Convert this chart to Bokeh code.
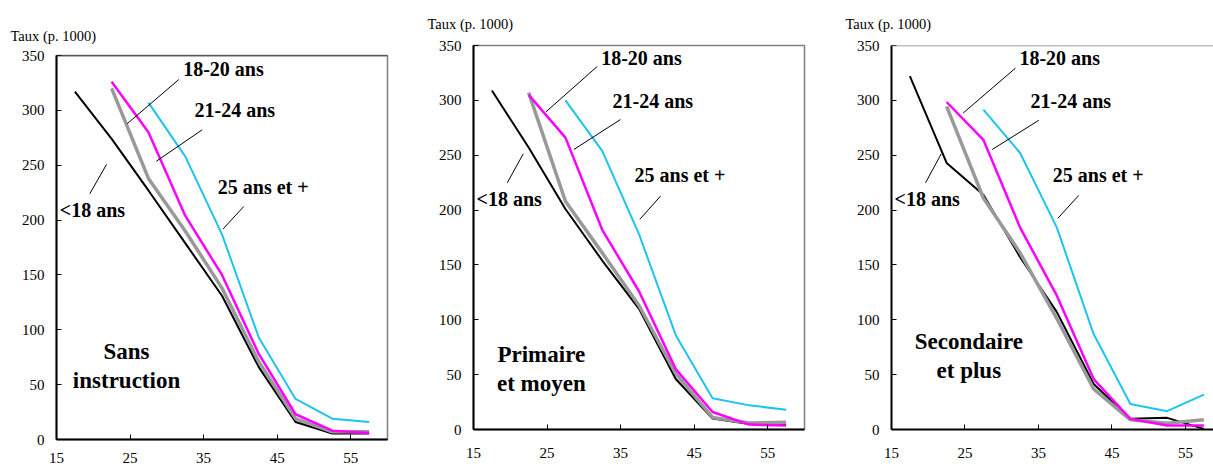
from bokeh.plotting import figure
from bokeh.layouts import row, column
from bokeh.models import Range1d, FixedTicker, Span
from bokeh.core.properties import value
from bokeh.embed import file_html
from bokeh.resources import INLINE

# ---------------- data ----------------
AGES = [17.5, 22.5, 27.5, 32.5, 37.5, 42.5, 47.5, 52.5, 57.5]
X_TICKS = [15, 25, 35, 45, 55]
Y_TICKS = [0, 50, 100, 150, 200, 250, 300, 350]

SERIES_NAMES = ["<18 ans", "18-20 ans", "21-24 ans", "25 ans et +"]
PANEL_NAMES = [["Sans", "instruction"], ["Primaire", "et moyen"], ["Secondaire", "et plus"]]
Y_TITLE = "Taux (p. 1000)"

# Sans instruction
sans_lt18 = [317, 274, 227, 179, 131, 66, 16, 5.5, 5.5]
sans_18_20 = [320, 238, 190, 138, 71, 19, 7, 7]
sans_21_24 = [326, 280, 204, 150, 78, 23, 8, 6]
sans_25p = [307, 258, 187, 93, 37, 19, 16]

# Primaire et moyen
prim_lt18 = [309, 257, 201, 154, 110, 46, 10, 5, 5]
prim_18_20 = [307, 208, 161, 113, 51, 11, 6, 6.5]
prim_21_24 = [305, 266, 182, 126, 55, 16, 4.5, 3.6]
prim_25p = [300, 254, 178, 86, 28.5, 22, 18]

# Secondaire et plus
sec_lt18 = [322, 243, 214, 157, 107, 41.5, 9.7, 10.6, 0.6]
sec_18_20 = [294.5, 211, 161, 101, 37, 8.8, 5.8, 8.8]
sec_21_24 = [298.5, 264, 184, 122, 46, 9.7, 3.6, 3.6]
sec_25p = [291.5, 252, 184, 87, 23.3, 16.7, 31.8]

# ---------------- styles ----------------
FONT = "Liberation Serif"
COLORS = ["#000000", "#999999", "#FF00FF", "#1EC3F0"]
WIDTHS = [2, 3.5, 2.5, 2]
START = [0, 1, 1, 2]  # index in AGES where each series starts

LABEL_POS = [
    [(15.45, 209.6), (32.22, 337.3), (33.76, 299.9), (36.93, 230.0)],
    [(15.41, 210.3), (32.36, 338.5), (33.90, 299.7), (36.89, 231.8)],
    [(15.41, 210.3), (32.41, 338.5), (33.91, 299.7), (36.95, 231.8)],
]
LEADERS = [
    [(21.80, 250.7, 19.53, 224.0), (31.63, 328.1, 24.61, 287.8),
     (34.81, 282.3, 28.59, 253.7), (40.46, 212.4, 37.66, 192.0)],
    [(21.76, 251.2, 19.58, 224.8), (31.82, 330.9, 24.83, 289.4),
     (34.98, 282.5, 28.64, 255.2), (40.42, 212.7, 37.61, 191.5)],
    [(21.76, 251.2, 19.63, 224.8), (31.87, 329.4, 24.76, 288.5),
     (35.04, 281.8, 28.70, 255.2), (40.48, 213.4, 37.63, 192.5)],
]
NAME_POS = [(24.52, 80.5, 53.8), (24.22, 68.8, 41.5), (25.52, 80.3, 53.6)]


def make_panel(idx, series, width, height, bl, br, bt, bb, xend, x_standoff,
               outline, top_color, title_standoff):
    p = figure(width=width, height=height, output_backend="svg",
               toolbar_location=None, x_range=Range1d(15, xend),
               y_range=Range1d(0, 350), min_border_left=bl,
               min_border_right=br, min_border_top=bt, min_border_bottom=bb,
               title=Y_TITLE)
    p.title.align = "left"
    p.title.offset = -46
    p.title.standoff = title_standoff
    p.title.text_line_height = 0.6
    p.title.text_font = FONT
    p.title.text_font_size = "14.5px"
    p.title.text_font_style = "normal"
    p.title.text_color = "black"
    p.background_fill_color = "white"
    p.border_fill_color = "white"
    p.xgrid.visible = False
    p.ygrid.visible = False
    if outline:
        p.outline_line_color = "#7F7F7F"
        p.outline_line_width = 1.5
    else:
        p.outline_line_color = None
    if top_color:
        p.add_layout(Span(location=350, dimension="width",
                          line_color=top_color, line_width=1.5))

    for ax in (p.xaxis[0], p.yaxis[0]):
        ax.axis_line_color = "black"
        ax.axis_line_width = 2
        ax.major_tick_in = 5
        ax.major_tick_out = 0
        ax.major_tick_line_color = "black"
        ax.minor_tick_line_color = None
        ax.major_label_text_font = FONT
        ax.major_label_text_font_size = "15px"
        ax.major_label_text_color = "black"
    p.xaxis.ticker = FixedTicker(ticks=X_TICKS)
    p.yaxis.ticker = FixedTicker(ticks=Y_TICKS)
    p.xaxis.major_label_standoff = x_standoff
    p.yaxis.major_label_standoff = 12

    for k, vals in enumerate(series):
        p.line(AGES[START[k]:START[k] + len(vals)], vals,
               line_color=COLORS[k], line_width=WIDTHS[k])

    seg = LEADERS[idx]
    p.segment(x0=[s[0] for s in seg], y0=[s[1] for s in seg],
              x1=[s[2] for s in seg], y1=[s[3] for s in seg],
              line_color="black", line_width=1)

    lp = LABEL_POS[idx]
    p.text(x=[q[0] for q in lp], y=[q[1] for q in lp], text=SERIES_NAMES,
           text_font=value(FONT), text_font_style="bold",
           text_font_size="20px", text_align="left",
           text_baseline="middle", text_color="black")

    nx, ny1, ny2 = NAME_POS[idx]
    p.text(x=[nx, nx], y=[ny1, ny2], text=PANEL_NAMES[idx],
           text_font=value(FONT), text_font_style="bold",
           text_font_size="23px", text_align="center",
           text_baseline="middle", text_color="black")
    return p


p1 = make_panel(0, [sans_lt18, sans_18_20, sans_21_24, sans_25p],
                400, 469, 56, 13, 55, 30, 60, 13, True, "#333333", 24)
p2 = make_panel(1, [prim_lt18, prim_18_20, prim_21_24, prim_25p],
                412, 469, 73, 8, 44, 40, 60, 18, True, None, 27)
p3 = make_panel(2, [sec_lt18, sec_18_20, sec_21_24, sec_25p],
                401, 469, 79, 0, 44, 40, 58.81, 18, False, "#7F7F7F", 27)

layout = row(column(p1), column(p2), column(p3), spacing=0)
open("out.html", "w").write(file_html(layout, INLINE))
